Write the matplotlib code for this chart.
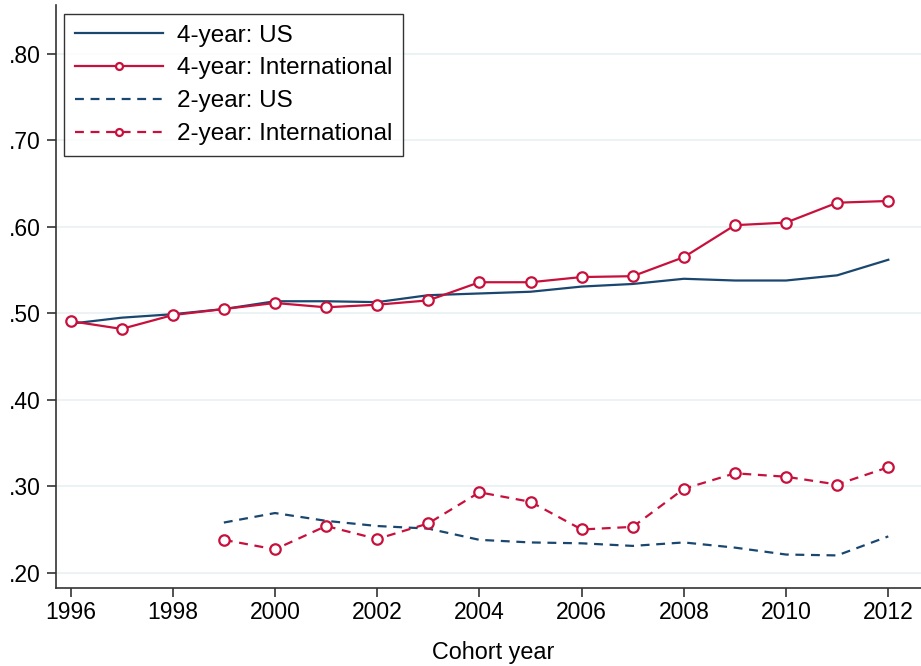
import matplotlib.pyplot as plt
import numpy as np

plt.rcParams["font.family"] = ["Liberation Sans", "DejaVu Sans"]

years_4 = np.arange(1996, 2013)
years_2 = np.arange(1999, 2013)

us_4yr = [0.488, 0.495, 0.499, 0.505, 0.514, 0.514, 0.513, 0.521, 0.523,
          0.525, 0.531, 0.534, 0.540, 0.538, 0.538, 0.544, 0.562]
intl_4yr = [0.491, 0.482, 0.498, 0.505, 0.512, 0.507, 0.510, 0.515, 0.536,
            0.536, 0.542, 0.543, 0.565, 0.602, 0.605, 0.628, 0.630]
us_2yr = [0.258, 0.269, 0.260, 0.254, 0.251, 0.238, 0.235, 0.234, 0.231,
          0.235, 0.229, 0.221, 0.220, 0.242]
intl_2yr = [0.238, 0.227, 0.254, 0.239, 0.257, 0.293, 0.282, 0.250, 0.253,
            0.297, 0.315, 0.311, 0.302, 0.322]

yticks = [0.2, 0.3, 0.4, 0.5, 0.6, 0.7, 0.8]
ytick_labels = [".20", ".30", ".40", ".50", ".60", ".70", ".80"]
xticks = np.arange(1996, 2013, 2)

navy = "#1a476f"
red = "#c8103c"

fig = plt.figure(figsize=(9.21, 6.66), dpi=100)
ax = fig.add_axes([55.7 / 921, 1 - 588 / 666, 865.3 / 921, 583 / 666])

ax.plot(years_4, us_4yr, color=navy, lw=1.6, label="4-year: US")
ax.plot(years_4, intl_4yr, color=red, lw=1.6, marker="o", ms=7.5,
        mfc="white", mec=red, mew=1.6, label="4-year: International")
ax.plot(years_2, us_2yr, color=navy, lw=1.6, dashes=(4, 3),
        label="2-year: US")
ax.plot(years_2, intl_2yr, color=red, lw=1.6, dashes=(4, 3), marker="o",
        ms=7.5, mfc="white", mec=red, mew=1.6, label="2-year: International")

ax.set_xlim(1995.71, 2012.64)
ax.set_ylim(0.1823, 0.8567)
ax.set_xticks(xticks)
ax.set_yticks(yticks)
ax.set_yticklabels(ytick_labels)
ax.tick_params(axis="both", labelsize=16.5, length=6.5, width=1.2,
               color="#333333")
ax.tick_params(axis="x", pad=3)
ax.tick_params(axis="y", pad=4)
ax.grid(axis="y", color="#eaf2f3", lw=1.3)
ax.set_axisbelow(True)

for side in ["top", "right"]:
    ax.spines[side].set_visible(False)
for side in ["left", "bottom"]:
    ax.spines[side].set_color("#333333")
    ax.spines[side].set_linewidth(1.2)

fig.text(493 / 921, 1 - 659 / 666, "Cohort year", fontsize=16.8,
         ha="center", va="baseline")

leg = ax.legend(loc="upper left", bbox_to_anchor=(8.6 / 865.3, 1 - 9.3 / 583),
                fontsize=17.5, frameon=True, fancybox=False,
                handlelength=3.65, borderpad=0.42, labelspacing=0.45,
                handletextpad=0.58, borderaxespad=0)
leg.get_frame().set_edgecolor("black")
leg.get_frame().set_linewidth(1.0)
for h in leg.legend_handles:
    h.set_markersize(5)

fig.savefig("out.png", dpi=100)
